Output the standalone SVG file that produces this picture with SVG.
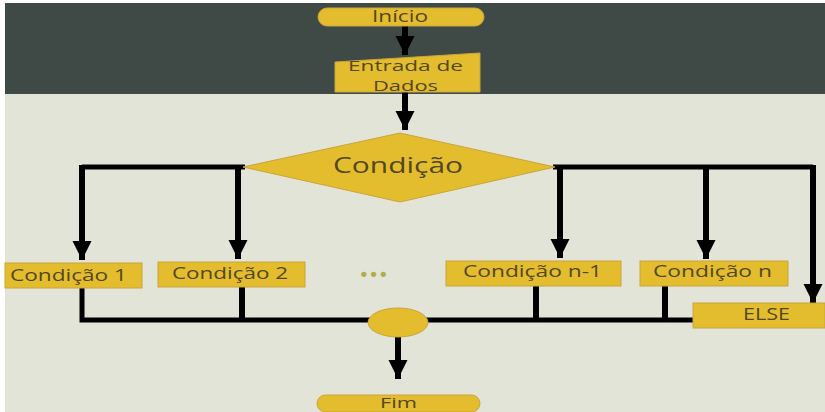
<svg xmlns="http://www.w3.org/2000/svg" width="825" height="412" viewBox="0 0 825 412">
<defs>
<style>
.shape{fill:#e3bd2e;stroke:#c9a53a;stroke-width:1}
.t{font-family:"Open Sans","Liberation Sans",sans-serif;fill:#54471f;text-anchor:middle;font-size:16px}
.ln{stroke:#000;stroke-width:5;fill:none}
.ar{stroke:#000;stroke-width:6;fill:none}
</style>
<marker id="ah" viewBox="0 0 10 10" refX="10" refY="5" markerWidth="3.2" markerHeight="3.2" orient="auto" markerUnits="strokeWidth">
<path d="M0,0 L10,5 L0,10 Z" fill="#000"/>
</marker>
</defs>
<rect x="0" y="0" width="825" height="412" fill="#ffffff"/>
<rect x="5" y="3" width="820" height="91" fill="#3f4945"/>
<rect x="5" y="94" width="820" height="318" fill="#e3e4d8"/>
<g id="connectors">
<path class="ar" d="M405,26 V55" marker-end="url(#ah)"/>
<path class="ar" d="M405,92 V130" marker-end="url(#ah)"/>
<path class="ln" d="M245,167 H82"/>
<path class="ar" d="M82,165 V260" marker-end="url(#ah)"/>
<path class="ar" d="M238,167 V259" marker-end="url(#ah)"/>
<path class="ln" d="M553,167 H813"/>
<path class="ar" d="M560,165 V258" marker-end="url(#ah)"/>
<path class="ar" d="M706,167 V259" marker-end="url(#ah)"/>
<path class="ar" d="M813,165 V303" marker-end="url(#ah)"/>
<path class="ln" d="M82,288 V320 H693"/>
<path class="ar" d="M242,287 V320"/>
<path class="ar" d="M536,286 V320"/>
<path class="ar" d="M665,286 V320"/>
<path class="ar" d="M398,337 V379" marker-end="url(#ah)"/>
</g>
<g id="inicio">
<rect class="shape" x="318" y="8" width="166" height="18" rx="9"/>
<text class="t" x="400" y="22" textLength="56" lengthAdjust="spacingAndGlyphs">Início</text>
</g>
<g id="entrada">
<path class="shape" d="M335,62 L480,53 V92 H335 Z"/>
<text class="t" x="405.5" y="71" style="font-size:14px" textLength="115" lengthAdjust="spacingAndGlyphs">Entrada de</text>
<text class="t" x="405.5" y="90.5" style="font-size:14px" textLength="65" lengthAdjust="spacingAndGlyphs">Dados</text>
</g>
<g id="condicao">
<path class="shape" d="M400,133 L555,167 L400,202 L243,167 Z"/>
<text class="t" x="398" y="173" style="font-size:21px" textLength="130" lengthAdjust="spacingAndGlyphs">Condição</text>
</g>
<g id="c1">
<rect class="shape" x="5" y="263" width="137" height="25"/>
<text class="t" x="68.5" y="281" textLength="117" lengthAdjust="spacingAndGlyphs">Condição 1</text>
</g>
<g id="c2">
<rect class="shape" x="158" y="262" width="147" height="25"/>
<text class="t" x="230" y="279" textLength="116" lengthAdjust="spacingAndGlyphs">Condição 2</text>
</g>
<g id="dots">
<text x="373.5" y="281" style="font-family:'DejaVu Sans',sans-serif;font-size:18px;fill:#b3ad45;text-anchor:middle" textLength="30" lengthAdjust="spacing">•••</text>
</g>
<g id="cn1">
<rect class="shape" x="446" y="261" width="175" height="25"/>
<text class="t" x="532.5" y="277" textLength="139" lengthAdjust="spacingAndGlyphs">Condição n-1</text>
</g>
<g id="cn">
<rect class="shape" x="640" y="261" width="148" height="25"/>
<text class="t" x="712.5" y="277" textLength="119" lengthAdjust="spacingAndGlyphs">Condição n</text>
</g>
<g id="else">
<rect class="shape" x="693" y="303" width="132" height="25"/>
<text class="t" x="766.5" y="320" textLength="47" lengthAdjust="spacingAndGlyphs">ELSE</text>
</g>
<g id="juncao">
<ellipse class="shape" cx="398" cy="322.5" rx="30" ry="14.5"/>
</g>
<g id="fim">
<rect class="shape" x="317" y="395" width="163" height="17" rx="8.5"/>
<text class="t" x="398.5" y="407.5" style="font-size:15px" textLength="37" lengthAdjust="spacingAndGlyphs">Fim</text>
</g>
</svg>
